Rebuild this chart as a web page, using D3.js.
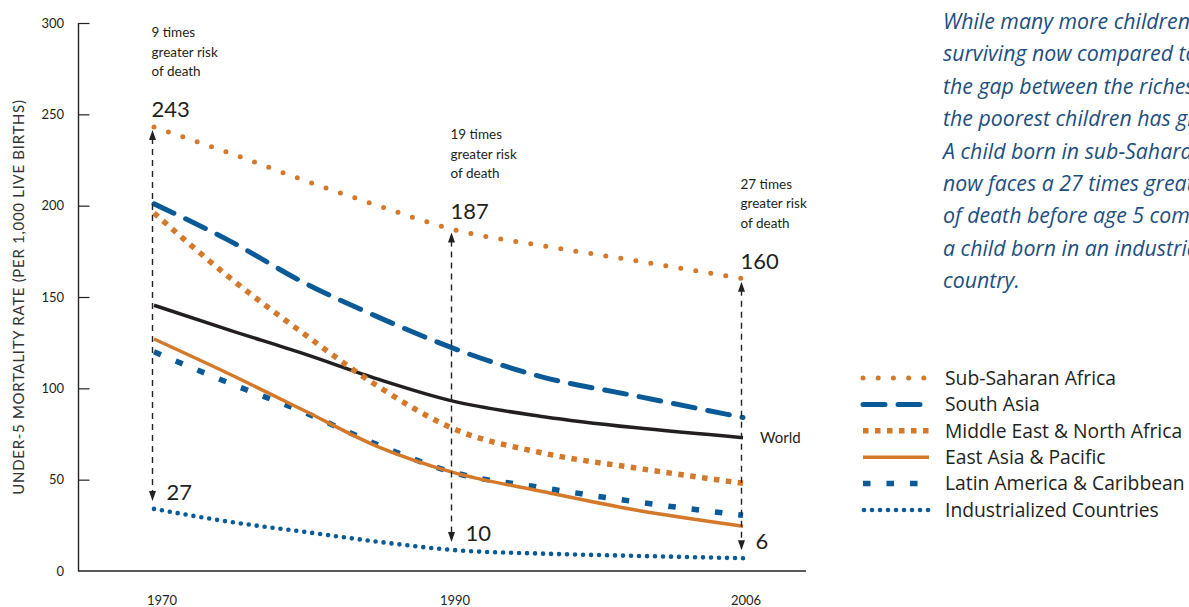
<!DOCTYPE html>
<html><head><meta charset="utf-8">
<script src="https://cdn.jsdelivr.net/npm/d3@7"></script>
<style>
html,body{margin:0;padding:0;background:#fff;overflow:hidden}
svg{display:block;font-family:Lato,"Noto Sans",sans-serif}
</style></head><body>
<svg id="c" width="1189" height="607"></svg>
<script>
// ---- data ----
const years = [1970, 1975, 1980, 1985, 1990, 1995, 2000, 2006];
const subSaharanAfrica = [243, 229, 214, 200, 187, 178, 170, 160];
const southAsia        = [201, 181, 158, 139, 122, 106, 96, 84];
const world            = [145.5, 132, 119, 105, 93, 84.5, 78.5, 73];
const middleEastNAfrica= [196, 161, 130, 101, 78, 64.5, 56.5, 48];
const eastAsiaPacific  = [127, 108, 88, 68, 54, 43.4, 33.5, 24.5];
const latinAmerica     = [120, 103, 87, 69, 54, 45.5, 38, 30.5];
const industrialized   = [34, 27, 21.5, 16, 11.5, 9.5, 8.3, 7];
const yTicks = [0, 50, 100, 150, 200, 250, 300];
const xTickYears = [1970, 1990, 2006];
const gapYears = [1970, 1990, 2006];
const gapHigh = [243, 187, 160];
const gapLow = [27, 10, 6];
const gapTimes = ["9 times", "19 times", "27 times"];
const seriesNames = ["Sub-Saharan Africa", "South Asia", "Middle East & North Africa",
  "East Asia & Pacific", "Latin America & Caribbean", "Industrialized Countries"];
const noteLines = ["While many more children are", "surviving now compared to 1970,",
  "the gap between the richest and", "the poorest children has grown.",
  "A child born in sub-Saharan Africa", "now faces a 27 times greater risk",
  "of death before age 5 compared with", "a child born in an industrialized", "country."];

// ---- styles ----
const ORANGE = "#d4782a", BLUE = "#0a5a98", BLACK = "#231f20";
const styles = {
  "Sub-Saharan Africa": {values: subSaharanAfrica, color: ORANGE, w: 5, dash: "0 15.2", cap: "round"},
  "South Asia": {values: southAsia, color: BLUE, w: 5, dash: "22 13", cap: "round"},
  "Middle East & North Africa": {values: middleEastNAfrica, color: ORANGE, w: 5.5, dash: "5.5 6.5", cap: "butt"},
  "East Asia & Pacific": {values: eastAsiaPacific, color: ORANGE, w: 3.5, dash: null, cap: "butt"},
  "Latin America & Caribbean": {values: latinAmerica, color: BLUE, w: 5.5, dash: "7.5 16", cap: "butt"},
  "Industrialized Countries": {values: industrialized, color: BLUE, w: 4.6, dash: "0 8", cap: "round"},
  "World": {values: world, color: BLACK, w: 3.5, dash: null, cap: "butt"}
};

const svg = d3.select("#c");
const x = d3.scaleLinear().domain([1970, 1990, 2006]).range([154, 453, 743]);
const y = d3.scaleLinear().domain([0, 300]).range([571, 23]);

// axes
const gy = svg.append("g").attr("transform", "translate(78.5,0)")
  .call(d3.axisRight(y).tickValues(yTicks).tickSize(11).tickFormat(""));
gy.select(".domain").attr("stroke", "#222").attr("stroke-width", 1.4).attr("d", `M0,${y(300)}V${y(0)}`);
gy.selectAll(".tick line").attr("stroke", "#222").attr("stroke-width", 1.2);
gy.selectAll(".tick").filter(d => d === 0).select("line").remove();
svg.append("g").selectAll("text").data(yTicks).join("text")
  .attr("x", 64).attr("y", d => y(d)).attr("dy", "0.35em")
  .attr("text-anchor", "end").attr("font-size", 13).attr("fill", "#231f20").text(d => d);
svg.append("line").attr("x1", 78).attr("x2", 806).attr("y1", y(0)).attr("y2", y(0))
  .attr("stroke", "#222").attr("stroke-width", 1.4);
const xLabelDx = [8, 2, 3];
svg.append("g").selectAll("text").data(xTickYears).join("text")
  .attr("x", (d, i) => x(d) + xLabelDx[i]).attr("y", 605)
  .attr("text-anchor", "middle").attr("font-size", 13).attr("fill", "#231f20").text(d => d);
svg.append("text").attr("transform", `translate(24,${297}) rotate(-90)`)
  .attr("text-anchor", "middle").attr("font-size", 15).attr("letter-spacing", 0.7)
  .attr("fill", "#333").text("UNDER-5 MORTALITY RATE (PER 1,000 LIVE BIRTHS)");

// lines
const line = d3.line().x((d, i) => x(years[i])).y(d => y(d)).curve(d3.curveMonotoneX);
const order = ["World", "Latin America & Caribbean", "East Asia & Pacific", "Middle East & North Africa",
  "South Asia", "Sub-Saharan Africa", "Industrialized Countries"];
order.forEach(name => {
  const s = styles[name];
  svg.append("path").attr("d", line(s.values)).attr("fill", "none")
    .attr("stroke", s.color).attr("stroke-width", s.w).attr("stroke-linecap", s.cap)
    .attr("stroke-dasharray", s.dash);
});
svg.append("text").attr("x", 760).attr("y", y(world[world.length - 1])).attr("dy", "0.35em")
  .attr("font-size", 15).attr("fill", "#231f20").text("World");

// gap arrows
const arrowG = svg.append("g");
gapYears.forEach((yr, i) => {
  const ax = x(yr) - 1.5;
  const top = y(gapHigh[i]) + 3, bot = y(industrialized[years.indexOf(yr)]) - 8;
  arrowG.append("line").attr("x1", ax).attr("x2", ax).attr("y1", top + 8).attr("y2", bot - 8)
    .attr("stroke", "#222").attr("stroke-width", 1.4).attr("stroke-dasharray", "6 5");
  arrowG.append("path").attr("d", `M${ax},${top}L${ax - 3.5},${top + 10}L${ax + 3.5},${top + 10}Z`).attr("fill", "#222");
  arrowG.append("path").attr("d", `M${ax},${bot}L${ax - 3.5},${bot - 10}L${ax + 3.5},${bot - 10}Z`).attr("fill", "#222");
  arrowG.append("text").attr("x", ax - 1).attr("y", y(gapHigh[i]) - 10)
    .attr("font-size", 22).attr("fill", "#231f20").text(gapHigh[i]);
  arrowG.append("text").attr("x", ax + 14).attr("y", bot - 1)
    .attr("font-size", 22).attr("fill", "#231f20").text(gapLow[i]);
  const t = arrowG.append("text").attr("x", ax - 1).attr("y", y(gapHigh[i]) - 90)
    .attr("font-size", 13.5).attr("fill", "#231f20");
  [gapTimes[i], "greater risk", "of death"].forEach((s, k) =>
    t.append("tspan").attr("x", ax - 1).attr("dy", k === 0 ? 0 : 19.5).text(s));
});

// note text (runs off the right edge, as in the original)
const note = svg.append("text").attr("x", 943).attr("y", 29).attr("font-size", 21.3)
  .attr("font-family", "'Open Sans', 'Noto Sans', sans-serif")
  .attr("font-style", "italic").attr("fill", "#1c4f80");
noteLines.forEach((s, k) => note.append("tspan").attr("x", 943).attr("dy", k === 0 ? 0 : 32.4).text(s));

// legend
const lg = svg.append("g");
seriesNames.forEach((name, i) => {
  const s = styles[name];
  const ly = 378 + i * 26.4;
  lg.append("line").attr("x1", name === "Industrialized Countries" ? 864 : 863).attr("x2", 929)
    .attr("y1", ly).attr("y2", ly).attr("stroke", s.color).attr("stroke-width", s.w)
    .attr("stroke-linecap", s.cap).attr("stroke-dasharray", s.dash);
  lg.append("text").attr("x", 945).attr("y", ly).attr("dy", "0.35em").attr("font-size", 19.3)
    .attr("font-family", "'Open Sans', 'Noto Sans', sans-serif")
    .attr("fill", "#231f20").text(name);
});
</script>
</body></html>
